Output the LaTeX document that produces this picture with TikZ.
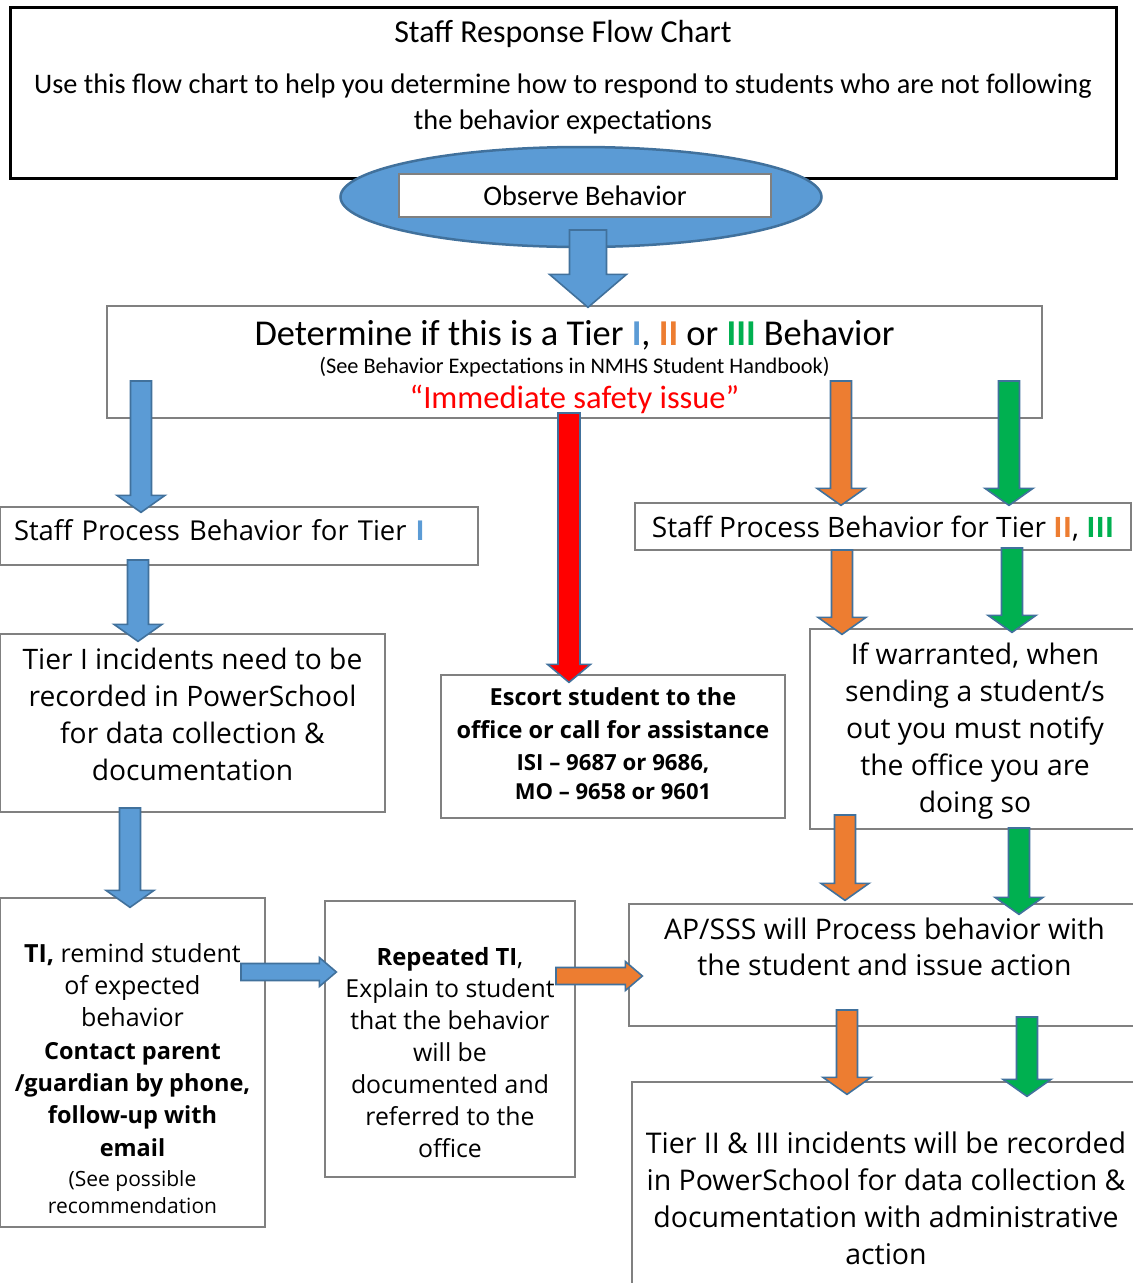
\documentclass[tikz,border=0pt]{standalone}
\usepackage{fontspec}
\setmainfont{Open Sans}
\newfontfamily\calfont{Carlito}
\usetikzlibrary{calc,shapes.geometric}

\definecolor{tierblue}{HTML}{5B9BD5}
\definecolor{tierorange}{HTML}{ED7D31}
\definecolor{tiergreen}{HTML}{00B050}
\definecolor{tierred}{HTML}{FF0000}
\definecolor{edgeblue}{HTML}{41719C}
\definecolor{boxgray}{HTML}{808080}

\newcommand{\fs}[2]{\fontsize{#1}{#2}\selectfont}
% block arrow: colour, from, tip, shaft half width, head half width, head length
\newcommand{\blockarrow}[6]{%
  \coordinate (bs) at (#2);
  \coordinate (bt) at (#3);
  \coordinate (bh) at ($(bt)!#6!(bs)$);
  \filldraw[arrowedge, fill=#1] ($(bs)!#4!90:(bt)$) -- ($(bh)!#4!90:(bt)$) -- ($(bh)!#5!90:(bt)$) -- (bt)
    -- ($(bh)!#5!-90:(bt)$) -- ($(bh)!#4!-90:(bt)$) -- ($(bs)!#4!-90:(bt)$) -- cycle;
}
\newcommand{\vblock}[3]{\blockarrow{#1}{#2}{#3}{10.5pt}{24pt}{17pt}}
\newcommand{\hblock}[3]{\blockarrow{#1}{#2}{#3}{8.5pt}{14.5pt}{17pt}}

\begin{document}
\begin{tikzpicture}[x=1pt, y=-1pt,
    box/.style={draw=boxgray, line width=1.3pt, fill=white, inner sep=0pt, align=center},
    arrowedge/.style={draw=edgeblue, line width=1.6pt, line join=miter}]
  \clip (0,0) rectangle (1133,1283);
  \fill[white] (0,0) rectangle (1133,1283);

  % header
  \node[box, draw=black, line width=3pt, minimum width=1106pt, minimum height=171pt, font=\calfont\fs{28.3}{36}]
    (top) at (563,92.5) {\fs{32}{36}Staff Response Flow Chart\\[14.8pt]
    Use this flow chart to help you determine how to respond to students who are not following\\
    the behavior expectations\rule[-35pt]{0pt}{0pt}};
  \node[ellipse, draw=edgeblue, line width=2.5pt, fill=tierblue, minimum width=481pt, minimum height=100pt]
    (ell) at (581,197) {};
  \node[box, minimum width=372pt, minimum height=43pt, font=\calfont\fs{28.3}{30}] (obs) at (585,195.5) {Observe Behavior};

  % tiers
  \node[box, minimum width=935pt, minimum height=112pt, font=\calfont\fs{36.4}{28}] (det) at (574.5,362)
    {\rule{0pt}{35pt}Determine if this is a Tier {\color{tierblue}\textbf{I}}, {\color{tierorange}\textbf{II}} or {\color{tiergreen}\textbf{III}} Behavior\\
     \fs{22.3}{28}(See Behavior Expectations in NMHS Student Handbook)\\[6.6pt]
     \fs{32.5}{28}{\color{tierred}“Immediate safety issue”}};

  \node[box, minimum width=478pt, minimum height=58pt, text width=450pt, align=left, font=\fs{27.4}{30}] (st1) at (239,536)
    {Staff Process Behavior for Tier {\color{tierblue}\textbf{I}}\rule[-12pt]{0pt}{0pt}};
  \node[box, minimum width=496pt, minimum height=47pt, font=\fs{28.1}{30}] (st2) at (883,526.5)
    {\rule{0pt}{26pt}Staff Process Behavior for Tier {\color{tierorange}\textbf{II}}, {\color{tiergreen}\textbf{III}}};

  \node[box, minimum width=385pt, minimum height=178pt, font=\fs{28.2}{37}] (inc) at (192.5,723)
    {Tier I incidents need to be\\recorded in PowerSchool\\for data collection \&\\documentation\rule[-18pt]{0pt}{0pt}};
  \node[box, minimum width=344pt, minimum height=143pt, font=\bfseries\fs{23.5}{32.5}] (esc) at (613,746.5)
    {Escort student to the\\office or call for assistance\\\fs{22.2}{30}ISI – 9687 or 9686,\\[-4pt]\fs{22}{30}MO – 9658 or 9601\rule[-6pt]{0pt}{0pt}};
  \node[box, minimum width=330pt, minimum height=200pt, font=\fs{28.3}{37}] (warr) at (975,729)
    {\rule{0pt}{26pt}If warranted, when\\sending a student/s\\out you must notify\\the office you are\\doing so};

  \node[box, minimum width=265pt, minimum height=329pt, font=\fs{25}{32.3}] (ti) at (132.5,1062.5)
    {\rule{0pt}{51pt}\textbf{TI,} remind student\\of expected\\behavior\\\bfseries\fs{23.5}{32.3}Contact parent\\
     \bfseries\fs{23.5}{32.3}/guardian by phone,\\\bfseries\fs{23.5}{32.3}follow-up with\\\bfseries\fs{23.5}{32.3}email\\[-2pt]
     \fs{21}{27}(See possible\\[-5pt]\fs{21}{27}recommendation};
  \node[box, minimum width=250pt, minimum height=276pt, font=\fs{24.8}{32}] (rep) at (450,1039)
    {\rule{0pt}{46pt}{\bfseries\fs{23.8}{32}Repeated TI},\\Explain to student\\that the behavior\\will be\\documented and\\referred to the\\office};
  \node[box, minimum width=511pt, minimum height=122pt, font=\fs{28.4}{36}] (ap) at (884.5,965)
    {AP/SSS will Process behavior with\\the student and issue action\rule[-36pt]{0pt}{0pt}};
  \node[box, minimum width=508pt, minimum height=218pt, font=\fs{28.5}{37}] (t23) at (886,1191)
    {\rule{0pt}{36pt}Tier II \& III incidents will be recorded\\in PowerSchool for data collection \&\\documentation with administrative\\action};

  % arrow starts
  \coordinate (obs-s) at (588,230);
  \coordinate (det-s1) at (141,381);
  \coordinate (det-s2) at (569,413);
  \coordinate (det-s3) at (841,381);
  \coordinate (det-s4) at (1009,381);
  \coordinate (st1-s) at (138,560);
  \coordinate (st2-s1) at (842,550);
  \coordinate (st2-s2) at (1012,548);
  \coordinate (inc-s) at (130,808);
  \coordinate (warr-s1) at (845,815);
  \coordinate (warr-s2) at (1019,828);
  \coordinate (ti-s) at (241,972);
  \coordinate (rep-s) at (556,976);
  \coordinate (ap-s1) at (847,1010);
  \coordinate (ap-s2) at (1027,1017);

  % arrows
  \blockarrow{tierblue}{obs-s}{$(obs-s |- det.north)+(0,2)$}{18.5pt}{38.5pt}{33pt}
  \vblock{tierblue}{det-s1}{$(det-s1 |- st1.north)+(0,6)$}
  \blockarrow{tierred}{det-s2}{$(det-s2 |- esc.north)+(0,8)$}{11pt}{21.5pt}{18pt}
  \vblock{tierorange}{det-s3}{$(det-s3 |- st2.north)+(0,3)$}
  \vblock{tiergreen}{det-s4}{$(det-s4 |- st2.north)+(0,3)$}
  \vblock{tierblue}{st1-s}{$(st1-s |- inc.north)+(0,8)$}
  \vblock{tierorange}{st2-s1}{$(st2-s1 |- warr.north)+(0,6)$}
  \vblock{tiergreen}{st2-s2}{$(st2-s2 |- warr.north)+(0,4)$}
  \vblock{tierblue}{inc-s}{$(inc-s |- ti.north)+(0,10)$}
  \vblock{tierorange}{warr-s1}{$(warr-s1 |- ap.north)+(0,-3)$}
  \vblock{tiergreen}{warr-s2}{$(warr-s2 |- ap.north)+(0,11)$}
  \hblock{tierblue}{ti-s}{$(ti-s -| rep.west)+(12,0)$}
  \hblock{tierorange}{rep-s}{$(rep-s -| ap.west)+(14,0)$}
  \vblock{tierorange}{ap-s1}{$(ap-s1 |- t23.north)+(0,13)$}
  \vblock{tiergreen}{ap-s2}{$(ap-s2 |- t23.north)+(0,15)$}
\end{tikzpicture}
\end{document}
